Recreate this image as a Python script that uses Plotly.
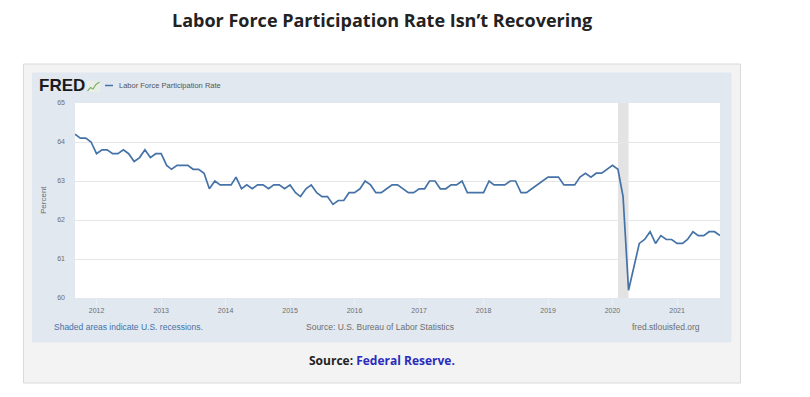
import plotly.graph_objects as go
import pandas as pd

# ---- data (monthly, Sep 2011 - Sep 2021), percent ----
lfpr = [
    # 2011 Sep-Dec
    64.2, 64.1, 64.1, 64.0,
    # 2012
    63.7, 63.8, 63.8, 63.7, 63.7, 63.8, 63.7, 63.5, 63.6, 63.8, 63.6, 63.7,
    # 2013
    63.7, 63.4, 63.3, 63.4, 63.4, 63.4, 63.3, 63.3, 63.2, 62.8, 63.0, 62.9,
    # 2014
    62.9, 62.9, 63.1, 62.8, 62.9, 62.8, 62.9, 62.9, 62.8, 62.9, 62.9, 62.8,
    # 2015
    62.9, 62.7, 62.6, 62.8, 62.9, 62.7, 62.6, 62.6, 62.4, 62.5, 62.5, 62.7,
    # 2016
    62.7, 62.8, 63.0, 62.9, 62.7, 62.7, 62.8, 62.9, 62.9, 62.8, 62.7, 62.7,
    # 2017
    62.8, 62.8, 63.0, 63.0, 62.8, 62.8, 62.9, 62.9, 63.0, 62.7, 62.7, 62.7,
    # 2018
    62.7, 63.0, 62.9, 62.9, 62.9, 63.0, 63.0, 62.7, 62.7, 62.8, 62.9, 63.0,
    # 2019
    63.1, 63.1, 63.1, 62.9, 62.9, 62.9, 63.1, 63.2, 63.1, 63.2, 63.2, 63.3,
    # 2020
    63.4, 63.3, 62.6, 60.2, 60.8, 61.4, 61.5, 61.7, 61.4, 61.6, 61.5, 61.5,
    # 2021 Jan-Sep
    61.4, 61.4, 61.5, 61.7, 61.6, 61.6, 61.7, 61.7, 61.6,
]
start_month = "2011-09-01"
dates = pd.date_range(start_month, periods=len(lfpr), freq="MS")

year_ticks = [f"{y}-01-01" for y in range(2012, 2022)]
year_labels = [str(y) for y in range(2012, 2022)]
y_ticks = [60, 61, 62, 63, 64, 65]

recession_start = "2020-02-01"
recession_end = "2020-04-01"

series_name = "Labor Force Participation Rate"
title_text = "Labor Force Participation Rate Isn\u2019t Recovering"

# ---- layout geometry (screen pixels; page body has an 8px margin) ----
OFF = 8
FW, FH = 794, 381
L, R, T, B = 75, 720, 103, 298  # plot area on screen
PW, PH = R - L, B - T


def px(xp):
    return (xp - L) / PW


def py(yp):
    return (B - yp) / PH


LINE = "#4572a7"
GRAY = "#6e6e6e"

fig = go.Figure()
fig.add_trace(go.Scatter(
    x=dates, y=lfpr, mode="lines", name=series_name,
    line=dict(color=LINE, width=1.7), hoverinfo="x+y",
))

shapes = [
    # outer light box
    dict(type="rect", xref="paper", yref="paper", x0=px(23.5), x1=px(740.5), y0=py(383), y1=py(64),
         fillcolor="#f3f3f3", line=dict(color="#dadada", width=1), layer="below"),
    # FRED panel
    dict(type="rect", xref="paper", yref="paper", x0=px(32), x1=px(731.5), y0=py(342.5), y1=py(72.5),
         fillcolor="#e1e8f0", line=dict(width=0), layer="below"),
    # plot area
    dict(type="rect", xref="paper", yref="paper", x0=0, x1=1, y0=0, y1=1,
         fillcolor="#ffffff", line=dict(width=0), layer="below"),
    # recession shading
    dict(type="rect", xref="x", yref="paper", x0=recession_start, x1=recession_end, y0=0, y1=1,
         fillcolor="#e3e3e3", line=dict(width=0), layer="below"),
    # legend line sample
    dict(type="line", xref="paper", yref="paper", x0=px(105), x1=px(113), y0=py(85.5), y1=py(85.5),
         line=dict(color=LINE, width=1.5)),
    # small logo graph icon
    dict(type="rect", xref="paper", yref="paper", x0=px(87), x1=px(100), y0=py(92), y1=py(81),
         fillcolor="#e9efe6", line=dict(width=0)),
    dict(type="path", xref="paper", yref="paper",
         path=f"M {px(87.5)},{py(91)} L {px(90.5)},{py(87.5)} L {px(93)},{py(89)} L {px(96)},{py(84.5)} L {px(99.5)},{py(82)}",
         line=dict(color="#7fb06a", width=1.2)),
]

annotations = [
    dict(text=f"<b>{title_text}</b>", xref="paper", yref="paper", x=px(382), y=py(20.5),
         xanchor="center", yanchor="middle", showarrow=False,
         font=dict(family="Open Sans", size=18, color="#222222")),
    dict(text="<b>FRED</b>", xref="paper", yref="paper", x=px(37), y=py(85.5),
         xanchor="left", yanchor="middle", showarrow=False,
         font=dict(family="Liberation Sans", size=17, color="#1a1a1a")),
    dict(text=series_name, xref="paper", yref="paper", x=px(117), y=py(85.5),
         xanchor="left", yanchor="middle", showarrow=False,
         font=dict(family="Liberation Sans", size=7.5, color="#555555")),
    dict(text="Percent", xref="paper", yref="paper", x=px(43), y=py(200), textangle=-90,
         xanchor="center", yanchor="middle", showarrow=False,
         font=dict(family="Liberation Sans", size=8, color=GRAY)),
    dict(text="Shaded areas indicate U.S. recessions.", xref="paper", yref="paper", x=px(52), y=py(327),
         xanchor="left", yanchor="middle", showarrow=False,
         font=dict(family="Liberation Sans", size=8.5, color=LINE)),
    dict(text="Source: U.S. Bureau of Labor Statistics", xref="paper", yref="paper", x=px(380), y=py(327),
         xanchor="center", yanchor="middle", showarrow=False,
         font=dict(family="Liberation Sans", size=8.5, color=GRAY)),
    dict(text="fred.stlouisfed.org", xref="paper", yref="paper", x=px(702), y=py(327),
         xanchor="right", yanchor="middle", showarrow=False,
         font=dict(family="Liberation Sans", size=8.5, color=GRAY)),
    dict(text="<b>Source: <span style='color:#2b2bbb'>Federal Reserve.</span></b>", xref="paper", yref="paper",
         x=px(382), y=py(360), xanchor="center", yanchor="middle", showarrow=False,
         font=dict(family="Open Sans", size=12, color="#222222")),
]

fig.update_layout(
    width=FW, height=FH,
    margin=dict(l=L - OFF, r=FW - (R - OFF), t=T - OFF, b=FH - (B - OFF), pad=0),
    paper_bgcolor="#ffffff", plot_bgcolor="rgba(0,0,0,0)",
    showlegend=False,
    shapes=shapes, annotations=annotations,
    xaxis=dict(
        type="date", range=[dates[0], dates[-1]],
        tickvals=year_ticks, ticktext=year_labels,
        showgrid=False, zeroline=False, showline=False,
        ticks="outside", ticklen=6, tickcolor="#edf1f6", tickwidth=1,
        tickfont=dict(family="Liberation Sans", size=7, color=GRAY),
    ),
    yaxis=dict(
        range=[60, 65], tickvals=y_ticks, ticktext=[str(v) for v in y_ticks],
        showgrid=True, gridcolor="#e6e6e6", gridwidth=1,
        zeroline=False, showline=False, ticks="",
        ticklabelstandoff=9,
        tickfont=dict(family="Liberation Sans", size=7, color=GRAY),
    ),
)

fig.write_html("out.html")
